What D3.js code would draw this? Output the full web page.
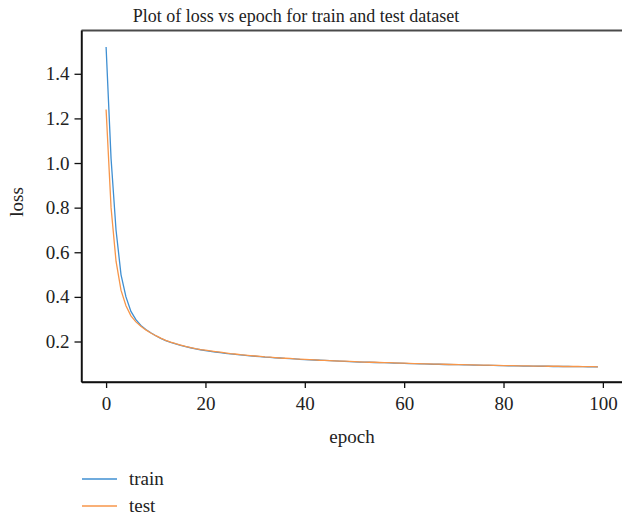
<!DOCTYPE html>
<html><head><meta charset="utf-8">
<script src="https://cdn.jsdelivr.net/npm/d3@7"></script>
<style>body{margin:0;background:#fff;} svg{display:block;} text{font-family:"Liberation Serif","Times New Roman",serif;fill:#222;}</style>
</head><body>
<svg id="c" width="622" height="517"></svg>
<script>
const title = "Plot of loss vs epoch for train and test dataset";
const xLabel = "epoch", yLabel = "loss";
const seriesNames = ["train", "test"];
const xTicks = [0, 20, 40, 60, 80, 100];
const yTicks = [0.2, 0.4, 0.6, 0.8, 1.0, 1.2, 1.4];
const trainLoss = [1.52,1.02,0.70,0.50,0.40,0.335,0.298,0.272,0.254,0.239,
0.226,0.214,0.204,0.196,0.189,0.183,0.177,0.172,0.167,0.163,
0.159,0.156,0.153,0.150,0.147,0.145,0.142,0.140,0.138,0.136,
0.134,0.132,0.130,0.129,0.127,0.126,0.124,0.123,0.122,0.120,
0.119,0.118,0.117,0.116,0.115,0.114,0.113,0.112,0.111,0.110,
0.109,0.108,0.108,0.107,0.106,0.105,0.105,0.104,0.103,0.103,
0.102,0.101,0.101,0.100,0.100,0.099,0.098,0.098,0.097,0.097,
0.096,0.096,0.095,0.095,0.094,0.094,0.093,0.093,0.093,0.092,
0.092,0.091,0.091,0.091,0.090,0.090,0.090,0.089,0.089,0.089,
0.088,0.088,0.088,0.088,0.087,0.087,0.087,0.086,0.086,0.086];
const testLoss = [1.24,0.80,0.56,0.43,0.36,0.315,0.288,0.268,0.252,0.238,
0.226,0.215,0.205,0.197,0.190,0.184,0.178,0.173,0.168,0.164,
0.161,0.158,0.155,0.152,0.149,0.146,0.144,0.141,0.139,0.137,
0.135,0.133,0.131,0.130,0.128,0.126,0.125,0.124,0.122,0.121,
0.120,0.119,0.118,0.116,0.115,0.114,0.113,0.112,0.112,0.111,
0.110,0.109,0.108,0.107,0.107,0.106,0.105,0.105,0.104,0.103,
0.103,0.102,0.101,0.101,0.100,0.100,0.099,0.099,0.098,0.097,
0.097,0.096,0.096,0.095,0.095,0.094,0.094,0.094,0.093,0.093,
0.092,0.092,0.092,0.091,0.091,0.091,0.090,0.090,0.090,0.089,
0.089,0.089,0.088,0.088,0.088,0.088,0.087,0.087,0.087,0.086];
const colors = ["#3f8fd2", "#f7964a"];

const svg = d3.select("#c");
const mLeft = 81.5, mRight = 622.5, mTop = 30.5, mBottom = 382;
const x = d3.scaleLinear().domain([-4.95, 103.95]).range([mLeft, mRight]);
const y = d3.scaleLinear().domain([0.0185, 1.594]).range([mBottom, mTop]);

svg.append("line").attr("x1", mLeft).attr("x2", mRight).attr("y1", mTop).attr("y2", mTop)
  .attr("stroke", "#4a4a4a").attr("stroke-width", 2);

const series = [trainLoss, testLoss];
const line = d3.line().x((d, i) => x(i)).y(d => y(d));
series.forEach((s, k) => {
  svg.append("path").datum(s).attr("d", line).attr("fill", "none")
    .attr("stroke", colors[k]).attr("stroke-width", 1.3);
});

const xAxis = svg.append("g").attr("transform", `translate(0,${mBottom})`)
  .call(d3.axisBottom(x).tickValues(xTicks).tickSize(6).tickPadding(9).tickSizeOuter(0));
const yAxis = svg.append("g").attr("transform", `translate(${mLeft},0)`)
  .call(d3.axisLeft(y).tickValues(yTicks).tickFormat(d3.format(".1f")).tickSize(7).tickPadding(5).tickSizeOuter(0));
[xAxis, yAxis].forEach(g => {
  g.select(".domain").attr("stroke", "#111").attr("stroke-width", 1.4);
  g.selectAll(".tick line").attr("stroke", "#111").attr("stroke-width", 1.3);
  g.selectAll("text").attr("font-size", 19).attr("font-family", '"Liberation Serif",serif').attr("fill", "#222");
});
svg.append("line").attr("x1", mLeft).attr("x2", mLeft).attr("y1", mTop).attr("y2", mBottom).attr("stroke", "#111").attr("stroke-width", 1.4);
svg.append("line").attr("x1", mLeft).attr("x2", mRight).attr("y1", mBottom).attr("y2", mBottom).attr("stroke", "#111").attr("stroke-width", 1.4);

svg.append("text").attr("x", 296).attr("y", 22).attr("text-anchor", "middle").attr("font-size", 18).text(title);
svg.append("text").attr("x", 352).attr("y", 443).attr("text-anchor", "middle").attr("font-size", 19).text(xLabel);
svg.append("text").attr("transform", "translate(23,202) rotate(-90)").attr("text-anchor", "middle").attr("font-size", 19).text(yLabel);

const legY = [479, 506];
seriesNames.forEach((n, k) => {
  svg.append("line").attr("x1", 82).attr("x2", 117).attr("y1", legY[k]).attr("y2", legY[k])
    .attr("stroke", colors[k]).attr("stroke-width", 1.3);
  svg.append("text").attr("x", 129).attr("y", legY[k] + 6).attr("font-size", 19).text(n);
});
</script>
</body></html>
